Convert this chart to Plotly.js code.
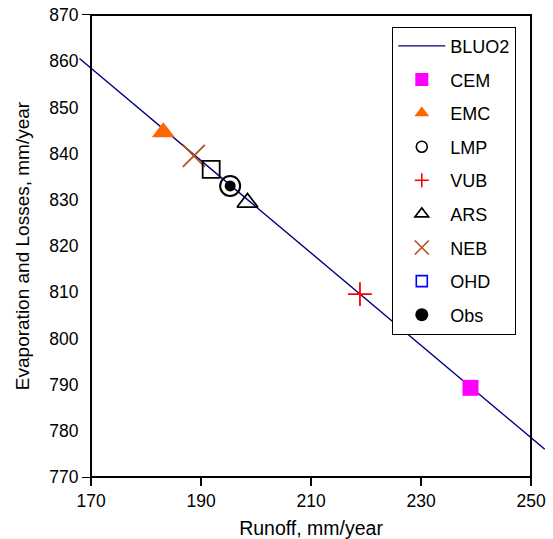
<!DOCTYPE html>
<html>
<head>
<meta charset="utf-8">
<script src="https://cdn.plot.ly/plotly-3.0.1.min.js"></script>
<style>html,body{margin:0;padding:0;background:#fff;}#chart{width:553px;height:539px;}</style>
</head>
<body>
<div id="chart"></div>
<script>
// Regression line (BLUO2)
const lineX = [167.9, 252.5];
const lineY = [860.6, 776.0];
// Model / observation points
const cemX = [239.0],  cemY = [789.3];
const emcX = [183.15], emcY = [844.6];
const lmpX = [195.3],  lmpY = [833.0];
const vubX = [218.9],  vubY = [809.6];
const arsX = [198.45], arsY = [829.4];
const nebX = [188.7],  nebY = [839.5];
const ohdX = [191.85], ohdY = [836.6];
const obsX = [195.3],  obsY = [833.0];
const names = ['BLUO2','CEM','EMC','LMP','VUB','ARS','NEB','OHD','Obs'];
const xTicks = [170, 190, 210, 230, 250];
const yTicks = [770, 780, 790, 800, 810, 820, 830, 840, 850, 860, 870];

const FONT = 'Liberation Sans, Arial, Helvetica, sans-serif';
const NAVY = '#000080';
const XDOM = [0.0258, 0.97];

function pt(x, y, sym, size, color, lw, lc) {
  return {type:'scatter', mode:'markers', x:x, y:y, xaxis:'x2', yaxis:'y2', showlegend:false, hoverinfo:'skip',
    marker:{symbol:sym, size:size, color:color, line:{width:lw, color:lc || color}}};
}
// legend entries (no data points; the legend uses its own symbol sizes)
function leg(i, sym, size, color, lw, lc) {
  return {type:'scatter', mode:'markers', x:[null], y:[null], xaxis:'x', yaxis:'y', name:names[i], legendgroup:'g'+i,
    marker:{symbol:sym, size:size, color:color, line:{width:lw, color:lc || color}}};
}

const traces = [
  {type:'scatter', mode:'lines', x:lineX, y:lineY, xaxis:'x2', yaxis:'y2', name:names[0], legendgroup:'g0',
   line:{color:NAVY, width:1.4}, hoverinfo:'skip'},
  pt(cemX, cemY, 'square', 16, '#FF00FF', 0),
  pt(emcX, emcY, 'triangle-up', 20, '#FF6600', 0),
  pt(lmpX, lmpY, 'circle-open', 20, '#000000', 2),
  pt(vubX, vubY, 'cross-thin-open', 17, '#FF0000', 1.8),
  pt(arsX, arsY, 'triangle-up-open', 18, '#000000', 1.8),
  pt(nebX, nebY, 'x-thin-open', 22, '#B5501A', 1.8),
  pt(ohdX, ohdY, 'square-open', 17, '#000000', 1.8),
  pt(obsX, obsY, 'circle', 11, '#000000', 0),
  leg(1, 'square', 13, '#FF00FF', 0),
  leg(2, 'triangle-up', 13, '#FF6600', 0),
  leg(3, 'circle-open', 11, '#000000', 1.6),
  leg(4, 'cross-thin-open', 10, '#FF0000', 1.6),
  leg(5, 'triangle-up-open', 12, '#000000', 1.6),
  leg(6, 'x-thin-open', 14, '#B5501A', 1.6),
  leg(7, 'square-open', 11, '#0000FF', 1.6),
  leg(8, 'circle', 13, '#000000', 0)
];

const axisCommon = {
  ticks:'outside', ticklen:8, tickwidth:1.5, tickcolor:'#000',
  showline:false, showgrid:false, zeroline:false,
  tickfont:{family:FONT, size:17.5, color:'#000'}
};

const layout = {
  width:553, height:539,
  margin:{l:79, r:8, t:15, b:62},
  paper_bgcolor:'#fff', plot_bgcolor:'#fff',
  font:{family:FONT, color:'#000'},
  showlegend:true,
  xaxis: Object.assign({}, axisCommon, {
    domain:XDOM, range:[170, 250], tickvals:xTicks, ticktext:xTicks.map(String),
    anchor:'y',
    title:{text:'Runoff, mm/year', font:{family:FONT, size:19.5, color:'#000'}, standoff:12}
  }),
  yaxis: Object.assign({}, axisCommon, {
    domain:[0, 1], range:[770, 870], tickvals:yTicks, ticktext:yTicks.map(String),
    anchor:'x',
    title:{text:'Evaporation and Losses, mm/year', font:{family:FONT, size:19, color:'#000'}, standoff:14}
  }),
  xaxis2: {domain:[0, 1], range:[167.818, 252.545], anchor:'y2', visible:false, showgrid:false, zeroline:false},
  yaxis2: {domain:[0, 1], range:[770, 870], anchor:'x2', visible:false, showgrid:false, zeroline:false},
  shapes:[{type:'rect', xref:'paper', yref:'paper', x0:XDOM[0], x1:XDOM[1], y0:0, y1:1,
           line:{color:'#000', width:2}, fillcolor:'rgba(0,0,0,0)', layer:'above'}],
  legend:{
    x:0.6723, y:0.9747, xanchor:'left', yanchor:'top',
    bgcolor:'#fff', bordercolor:'#000', borderwidth:1,
    font:{family:FONT, size:18, color:'#000'},
    traceorder:'grouped', tracegroupgap:7.2, itemwidth:47
  }
};

Plotly.newPlot('chart', traces, layout, {displayModeBar:false, staticPlot:true});
</script>
</body>
</html>
